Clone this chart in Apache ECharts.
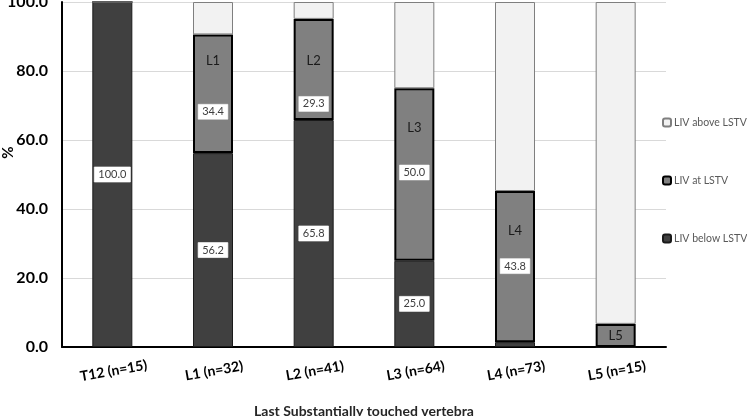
<!DOCTYPE html>
<html>
<head>
<meta charset="utf-8">
<script src="https://cdn.jsdelivr.net/npm/echarts@6/dist/echarts.min.js"></script>
<style>
  html, body { margin: 0; padding: 0; background: #fff; }
  #chart { width: 747px; height: 416px; }
</style>
</head>
<body>
<div id="chart"></div>
<script>
// data
var categories = ["T12 (n=15)", "L1 (n=32)", "L2 (n=41)", "L3 (n=64)", "L4 (n=73)", "L5 (n=15)"];
var belowLSTV = [100.0, 56.2, 65.8, 25.0, 1.4, 0];
var atLSTV = [0, 34.4, 29.3, 50.0, 43.8, 6.7];
var aboveLSTV = [0, 9.4, 4.9, 25.0, 54.8, 93.3];
var levelNames = ["", "L1", "L2", "L3", "L4", "L5"];
var yTicks = [0, 20, 40, 60, 80, 100];

// label layout for the "at" segments (spacer between level name and value box, shift in px)
var atGap = [0, 36, 29, 30, 21, 0];
var atShift = [0, -8, 12, -25, -19, 0];

var FONT = "Lato";

var boxStyle = {
    backgroundColor: "#fff",
    borderColor: "#bfbfbf",
    borderWidth: 0.5,
    padding: [2, 4],
    color: "#404040",
    fontSize: 11,
    lineHeight: 13,
    fontFamily: FONT
};

var rich = { n: { fontSize: 13, lineHeight: 16, color: "#1a1a1a", fontFamily: FONT }, v: boxStyle };
atGap.forEach(function (g, i) {
    rich["g" + i] = { fontSize: 1, lineHeight: g };
});

var chart = echarts.init(document.getElementById("chart"));

chart.setOption({
    animation: false,
    grid: { left: 62, right: 81, top: 2, bottom: 69, containLabel: false, outerBoundsMode: "none" },
    legend: {
        orient: "vertical",
        left: 657,
        top: 112,
        itemGap: 47,
        itemWidth: 8,
        itemHeight: 8,
        data: ["LIV above LSTV", "LIV at LSTV", "LIV below LSTV"],
        textStyle: { color: "#595959", fontSize: 10.5, fontFamily: FONT, overflow: "none", width: 120, padding: [0, 0, 0, -2] }
    },
    xAxis: {
        type: "category",
        data: categories,
        name: "Last Substantially touched vertebra",
        nameLocation: "middle",
        nameGap: 57,
        nameTextStyle: { color: "#262626", fontSize: 14, fontWeight: "bold", fontFamily: FONT },
        axisLine: { lineStyle: { color: "#000", width: 2 } },
        axisTick: { show: false },
        axisLabel: {
            rotate: 10,
            align: "center",
            verticalAlign: "top",
            margin: 17,
            color: "#000",
            fontSize: 14,
            fontWeight: "bold",
            fontFamily: FONT
        }
    },
    yAxis: {
        type: "value",
        min: 0,
        max: 100,
        interval: 20,
        name: "%",
        nameLocation: "middle",
        nameGap: 46,
        nameMoveOverlap: false,
        nameTextStyle: { color: "#000", fontSize: 15, fontWeight: "bold", fontFamily: FONT, padding: [0, 0, 0, 44] },
        axisLine: { show: true, lineStyle: { color: "#000", width: 2 } },
        axisTick: { show: false },
        splitLine: { lineStyle: { color: "#d9d9d9", width: 1 } },
        axisLabel: {
            margin: 14,
            color: "#000",
            fontSize: 16,
            fontWeight: "bold",
            fontFamily: FONT,
            formatter: function (v) { return yTicks.indexOf(v) >= 0 ? v.toFixed(1) : ""; }
        }
    },
    series: [
        {
            name: "LIV below LSTV",
            type: "bar",
            stack: "pct",
            barWidth: 40,
            data: belowLSTV,
            itemStyle: { color: "#404040", borderColor: "#1a1a1a", borderWidth: 1 },
            label: {
                show: true,
                position: "inside",
                formatter: function (p) { return p.value >= 5 ? "{v|" + p.value.toFixed(1) + "}" : ""; },
                rich: { v: boxStyle }
            }
        },
        {
            name: "LIV at LSTV",
            type: "bar",
            stack: "pct",
            barWidth: 40,
            data: atLSTV.map(function (v, i) {
                return { value: v, label: { offset: [0, atShift[i]] } };
            }),
            itemStyle: { color: "#808080", borderColor: "#000", borderWidth: 2 },
            label: {
                show: true,
                position: "inside",
                formatter: function (p) {
                    var i = p.dataIndex;
                    if (!p.value) return "";
                    if (p.value < 10) return "{n|" + levelNames[i] + "}";
                    return "{n|" + levelNames[i] + "}\n{g" + i + "| }\n{v|" + p.value.toFixed(1) + "}";
                },
                rich: rich
            }
        },
        {
            name: "LIV above LSTV",
            type: "bar",
            stack: "pct",
            barWidth: 40,
            data: aboveLSTV,
            itemStyle: { color: "#f2f2f2", borderColor: "#7f7f7f", borderWidth: 1 }
        }
    ]
});
</script>
</body>
</html>
